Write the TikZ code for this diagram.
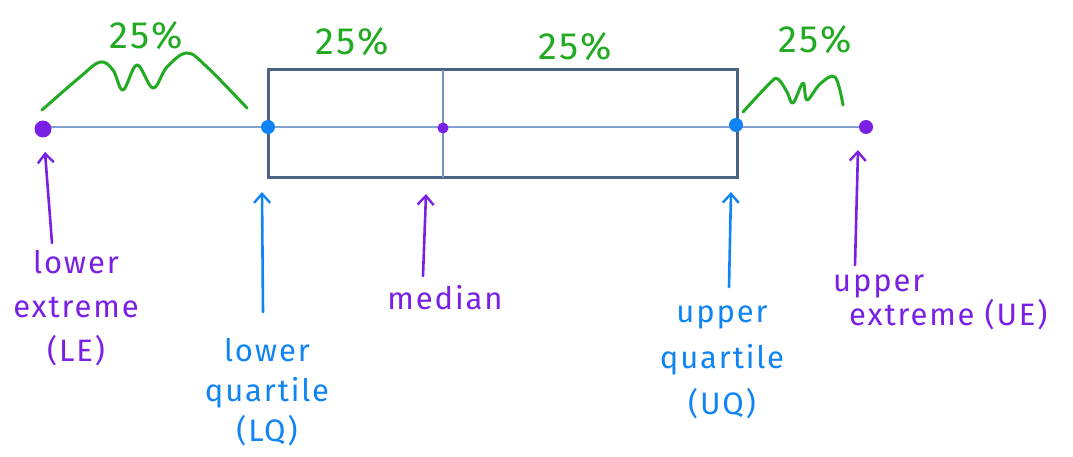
\documentclass[tikz,border=0pt]{standalone}
\usepackage{fontspec}
\setmainfont{Fira Sans}[LetterSpace=6]
\usetikzlibrary{arrows.meta}
\definecolor{hgreen}{RGB}{34,170,34}
\definecolor{hpurple}{RGB}{122,32,228}
\definecolor{hblue}{RGB}{16,132,245}
\definecolor{boxc}{RGB}{74,99,130}
\definecolor{axisc}{RGB}{128,160,205}
\tikzset{
  pct/.style={text=hgreen,font=\fontsize{38}{40}\selectfont,inner sep=0pt},
  lab/.style={font=\fontsize{31}{40}\selectfont,align=center,inner sep=0pt},
  brace/.style={hgreen,line width=3pt,line cap=round,line join=round},
  pointer/.style={line width=2.6pt,line cap=round,-{Straight Barb[length=9pt,width=16pt,line width=2.4pt]}},
  dotp/.style={circle,fill=hpurple,inner sep=0pt},
  dotb/.style={circle,fill=hblue,inner sep=0pt},
}
\begin{document}
\begin{tikzpicture}[x=1pt,y=-1pt]
\useasboundingbox (0,0) rectangle (1073,457);
% axis
\coordinate (axL) at (43,127);
\coordinate (axR) at (866,127);
\draw[axisc,line width=2pt] (axL) -- (axR);
% box
\draw[boxc,line width=3pt] (268,70) rectangle (737,178);
\draw[axisc!80!boxc,line width=2pt] (443,70) -- (443,178);
% dots
\node[dotp,minimum size=17pt] (le) at (43,129) {};
\node[dotb,minimum size=14pt] (lq) at (268,127) {};
\node[dotp,minimum size=11pt] (md) at (443,128) {};
\node[dotb,minimum size=14pt] (uq) at (736,125) {};
\node[dotp,minimum size=14pt] (ue) at (866,127) {};
% percentages
\node[pct] (p1) at (146,36) {25\%};
\node[pct] (p2) at (352,42) {25\%};
\node[pct] (p3) at (575,47) {25\%};
\node[pct] (p4) at (815,40) {25\%};
% braces
\draw[brace] plot[smooth,tension=0.6] coordinates {(42,110) (80,77) (100,62) (113,70) (123,90) (137,65) (153,88) (167,67) (187,53) (207,67) (247,108)};
\draw[brace] plot[smooth,tension=0.6] coordinates {(743,112) (770,83) (778,79) (787,92) (793,103) (803,83) (807,100) (820,84) (835,77) (843,105)};
% labels
\node[lab,text=hpurple,font=\fontsize{31}{44}\selectfont] (lle) at (76,308) {lower\\extreme\\(LE)};
\node[lab,text=hblue] (llq) at (267,392) {lower\\quartile\\(LQ)};
\node[lab,text=hpurple] (lmd) at (445,298) {median};
\node[lab,text=hblue,font=\fontsize{31}{46}\selectfont] (luq) at (722,362) {upper\\quartile\\(UQ)};
\node[lab,text=hpurple,align=left,anchor=west,font=\fontsize{31}{30}\selectfont] (lue) at (833,302) {upper\\\hspace*{16pt}extreme (UE)};
% pointer arrows
\coordinate (tle) at (45,152);
\coordinate (ble) at (52,243);
\coordinate (tlq) at (262,192);
\coordinate (blq) at (263,312);
\coordinate (tmd) at (426,194);
\coordinate (bmd) at (423,276);
\coordinate (tuq) at (731,192);
\coordinate (buq) at (729,287);
\coordinate (tue) at (858,150);
\coordinate (bue) at (855,265);
\draw[pointer,hpurple] (ble) -- (tle);
\draw[pointer,hblue] (blq) -- (tlq);
\draw[pointer,hpurple] (bmd) -- (tmd);
\draw[pointer,hblue] (buq) -- (tuq);
\draw[pointer,hpurple] (bue) -- (tue);
\end{tikzpicture}
\end{document}
